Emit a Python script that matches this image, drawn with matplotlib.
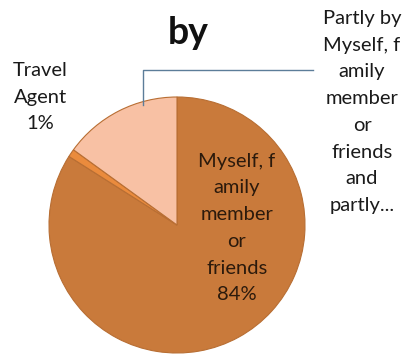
import matplotlib
matplotlib.use("Agg")
import matplotlib.pyplot as plt

# --- Данные диаграммы ---
labels = ["Myself, f\namily\nmember\nor\nfriends",
          "Travel\nAgent",
          "Partly by\nMyself, f\namily\nmember\nor\nfriends\nand\npartly..."]
shares = [84, 1, 15]
colors = ["#C97A3B", "#EA8B3D", "#F8C1A4"]
title = "by"

plt.rcParams['font.family'] = ['Lato', 'DejaVu Sans']

W, H = 409, 355
fig = plt.figure(figsize=(W / 100, H / 100), dpi=100)
ax = fig.add_axes([0, 0, 1, 1])

cx, cy, r = 177, H - 225, 128
wedges, _ = ax.pie(shares, colors=colors, startangle=90, counterclock=False,
                   center=(cx, cy), radius=r,
                   wedgeprops={'edgecolor': '#B86E33', 'linewidth': 0.8})
ax.set_xlim(0, W)
ax.set_ylim(0, H)
ax.set_aspect('equal')
ax.axis('off')

txt = dict(ha='center', va='center', fontsize=14.5, linespacing=1.7)

# подпись внутри большого сектора
ax.text(237, H - 228, "{}\n{}%".format(labels[0], shares[0]),
        color='#2B1A0C', **txt)
# подпись Travel Agent
ax.text(40, H - 97, "{}\n{}%".format(labels[1], shares[1]), color='#1A1A1A', **txt)
# подпись справа с выноской
ax.text(362, H - 112, labels[2], color='#1A1A1A', **txt)
ax.plot([143, 143, 313], [H - 105, H - 70, H - 70], color='#5C7D99', lw=1)

ax.text(188, H - 33, title, ha='center', va='center', fontsize=27,
        fontweight='bold', color='#111111')

fig.savefig("out.png", dpi=100)
